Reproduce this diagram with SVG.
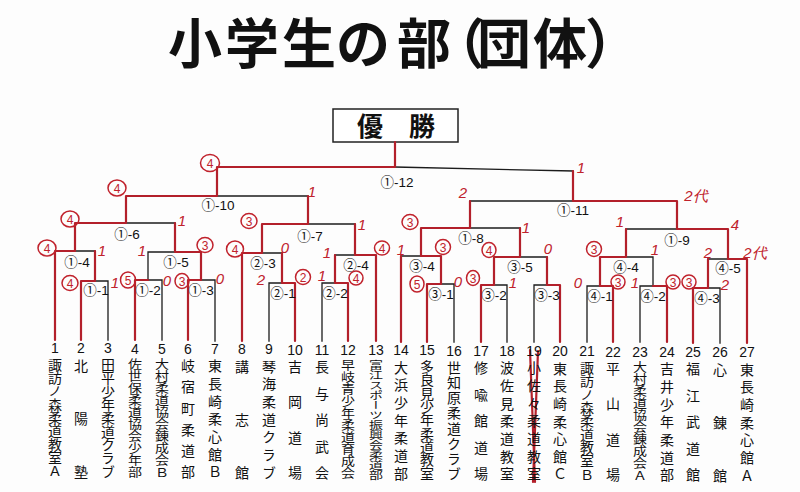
<svg xmlns="http://www.w3.org/2000/svg" width="800" height="492" viewBox="0 0 800 492">
<style>
.k{stroke:#1c1c1c;stroke-width:1.3;fill:none;stroke-linecap:square}
.r{stroke:#b3202b;stroke-width:2.2;fill:none;stroke-linecap:round}
.lb{font-family:"Liberation Sans","Noto Sans CJK JP",sans-serif;font-size:13.5px;fill:#111;text-anchor:middle}
.num{font-family:"Liberation Sans",sans-serif;font-size:14px;fill:#111;text-anchor:middle}
.nm{font-family:"Noto Sans CJK JP",sans-serif;font-size:14px;fill:#111;writing-mode:vertical-rl}
.hw{font-family:"Liberation Sans",sans-serif;font-style:italic;font-size:15px;fill:#c0222c;text-anchor:middle}
.hc{font-family:"Liberation Sans",sans-serif;font-size:12px;fill:#c0222c;text-anchor:middle}
.ci{fill:none;stroke:#c0222c;stroke-width:1.5}
</style>
<rect width="800" height="492" fill="#fdfdfd"/>
<g id="title">
<text x="195 252 309 363 424 458 504 560 612" y="64" font-family="Noto Sans CJK JP, sans-serif" font-weight="700" font-size="54" text-anchor="middle" fill="#111">小学生の部（団体）</text>
</g>
<g id="champion">
<rect x="333" y="109" width="125" height="33" fill="#fff" stroke="#222" stroke-width="1.5"/>
<text x="396" y="136" font-family="Noto Sans CJK JP, sans-serif" font-weight="700" font-size="26" text-anchor="middle" fill="#111">優　勝</text>
</g>
<g id="connectors">
<path class="k" d="M108 340V281M162 340V280M215 341V280M269 341V283M322 341V283M454 342V284M507 342V285M534 342V285M587 342V286M640 342V286M720 343V288
M95 281H108M148 280H162M201 280H215M269 283H282M322 283H335M441 284H454M494 285H507M534 285H547M587 286H600M640 286H653M707 288H720
M148 280V252M653 286V257
M75 251H95M148 252H175M262 253H282M335 255H355M401 256H421M520 257H547M626 257H653M708 259H728
M126 223H175M308 224H355M470 228H520M626 229H677
M217 196H308M470 201H573M395 167L573 171"/>
<path class="r" d="M55 340V251M81 340V281M135 340V280M188 340V280M242 341V253M295 341V283M348 341V283M376 341V255M401 342V256M427 342V284M481 342V285M560 342V285M613 342V286M667 342V286M693 343V288M747 343V259
M81 281H95M135 280H148M188 280H201M282 283H295M335 283H348M427 284H441M481 285H494M547 285H560M600 286H613M653 286H667M693 288H708
M95 281V251M201 280V252M282 283V253M335 283V255M441 284V256M494 285V257M547 285V257M600 286V257M708 288V259
M55 251H75M175 252H201M242 253H262M355 255H376M421 256H441M494 257H520M600 257H626M728 259H747
M75 251V223M175 252V223M262 253V224M355 255V224M421 256V228M520 257V228M626 257V229M728 259V229
M75 223H126M262 224H308M421 228H470M677 229H728
M126 223V196M308 224V196M470 228V201M677 229V201
M126 196H217M573 201H677
M217 196V167M573 201V171
M217 167H395M395 167V142"/>
<path class="r" stroke-width="1.4" d="M530 350L535 482M538 351L533 482"/>
</g>
<g id="matches">
<g id="m1-1"><text class="lb" x="96" y="295">①-1</text></g>
<g id="m1-2"><text class="lb" x="148" y="295">①-2</text></g>
<g id="m1-3"><text class="lb" x="201" y="295">①-3</text></g>
<g id="m1-4"><text class="lb" x="77" y="267">①-4</text></g>
<g id="m1-5"><text class="lb" x="176" y="267">①-5</text></g>
<g id="m1-6"><text class="lb" x="127" y="239">①-6</text></g>
<g id="m1-7"><text class="lb" x="310" y="241">①-7</text></g>
<g id="m1-10"><text class="lb" x="218" y="210">①-10</text></g>
<g id="m1-12"><text class="lb" x="397" y="187">①-12</text></g>
<g id="m2-1"><text class="lb" x="283" y="298">②-1</text></g>
<g id="m2-2"><text class="lb" x="335" y="298">②-2</text></g>
<g id="m2-3"><text class="lb" x="263" y="268">②-3</text></g>
<g id="m2-4"><text class="lb" x="356" y="270">②-4</text></g>
<g id="m3-1"><text class="lb" x="441" y="299">③-1</text></g>
<g id="m3-2"><text class="lb" x="494" y="300">③-2</text></g>
<g id="m3-3"><text class="lb" x="547" y="300">③-3</text></g>
<g id="m3-4"><text class="lb" x="422" y="271">③-4</text></g>
<g id="m3-5"><text class="lb" x="520" y="272">③-5</text></g>
<g id="m1-8"><text class="lb" x="471" y="243">①-8</text></g>
<g id="m1-11"><text class="lb" x="573" y="215">①-11</text></g>
<g id="m1-9"><text class="lb" x="677" y="245">①-9</text></g>
<g id="m4-1"><text class="lb" x="600" y="301">④-1</text></g>
<g id="m4-2"><text class="lb" x="653" y="301">④-2</text></g>
<g id="m4-3"><text class="lb" x="707" y="303">④-3</text></g>
<g id="m4-4"><text class="lb" x="626" y="272">④-4</text></g>
<g id="m4-5"><text class="lb" x="728" y="273">④-5</text></g>
</g>
<g id="teams">
<g id="t1"><text class="num" x="55" y="353">1</text><text class="nm" transform="translate(55 358) scale(1 0.952)">諏訪ノ森柔道教室Ａ</text></g>
<g id="t2"><text class="num" x="81" y="353.2">2</text><text class="nm" x="81" y="358.2 411.2 464.2">北陽塾</text></g>
<g id="t3"><text class="num" x="108" y="353.3">3</text><text class="nm" transform="translate(108 358.3) scale(1 0.952)">田平少年柔道クラブ</text></g>
<g id="t4"><text class="num" x="135" y="353.5">4</text><text class="nm" transform="translate(135 358.5) scale(1 0.857)">佐世保柔道協会少年部</text></g>
<g id="t5"><text class="num" x="162" y="353.7">5</text><text class="nm" transform="translate(162 358.7) scale(1 0.857)">大村柔道協会錬成会Ｂ</text></g>
<g id="t6"><text class="num" x="188" y="353.9">6</text><text class="nm" x="188" y="358.9 380.1 401.3 422.5 443.7 464.9">岐宿町柔道部</text></g>
<g id="t7"><text class="num" x="215" y="354">7</text><text class="nm" x="215" y="359 376.7 394.3 412 429.7 447.3 465">東長崎柔心館Ｂ</text></g>
<g id="t8"><text class="num" x="242" y="354.2">8</text><text class="nm" x="242" y="359.2 412.2 465.2">講志館</text></g>
<g id="t9"><text class="num" x="269" y="354.4">9</text><text class="nm" x="269" y="359.4 377.1 394.7 412.4 430.1 447.7 465.4">琴海柔道クラブ</text></g>
<g id="t10"><text class="num" x="295" y="354.5">10</text><text class="nm" x="295" y="359.5 394.8 430.2 465.5">吉岡道場</text></g>
<g id="t11"><text class="num" x="322" y="354.7">11</text><text class="nm" x="322" y="359.7 386.2 412.7 439.2 465.7">長与尚武会</text></g>
<g id="t12"><text class="num" x="348" y="354.9">12</text><text class="nm" transform="translate(348 359.9) scale(1 0.857)">早岐青少年柔道育成会</text></g>
<g id="t13"><text class="num" x="376" y="355">13</text><text class="nm" transform="translate(376 360) scale(1 0.714)">富江スポーツ振興会柔道部</text></g>
<g id="t14"><text class="num" x="401" y="355.2">14</text><text class="nm" x="401" y="360.2 377.9 395.5 413.2 430.9 448.5 466.2">大浜少年柔道部</text></g>
<g id="t15"><text class="num" x="427" y="355.4">15</text><text class="nm" transform="translate(427 360.4) scale(1 0.952)">多良見少年柔道教室</text></g>
<g id="t16"><text class="num" x="454" y="355.6">16</text><text class="nm" x="454" y="360.6 375.7 390.9 406 421.2 436.3 451.4 466.6">世知原柔道クラブ</text></g>
<g id="t17"><text class="num" x="481" y="355.7">17</text><text class="nm" x="481" y="360.7 387.2 413.7 440.2 466.7">修喩館道場</text></g>
<g id="t18"><text class="num" x="507" y="355.9">18</text><text class="nm" x="507" y="360.9 378.6 396.2 413.9 431.6 449.2 466.9">波佐見柔道教室</text></g>
<g id="t19"><text class="num" x="534" y="356.1">19</text><text class="nm" x="534" y="361.1 378.8 396.4 414.1 431.8 449.4 467.1">小佐々柔道教室</text></g>
<g id="t20"><text class="num" x="560" y="356.2">20</text><text class="nm" x="560" y="361.2 378.9 396.5 414.2 431.9 449.5 467.2">東長崎柔心館Ｃ</text></g>
<g id="t21"><text class="num" x="587" y="356.4">21</text><text class="nm" transform="translate(587 361.4) scale(1 0.952)">諏訪ノ森柔道教室Ｂ</text></g>
<g id="t22"><text class="num" x="613" y="356.6">22</text><text class="nm" x="613" y="361.6 396.9 432.3 467.6">平山道場</text></g>
<g id="t23"><text class="num" x="640" y="356.7">23</text><text class="nm" transform="translate(640 361.7) scale(1 0.857)">大村柔道協会錬成会Ａ</text></g>
<g id="t24"><text class="num" x="667" y="356.9">24</text><text class="nm" x="667" y="361.9 379.6 397.2 414.9 432.6 450.2 467.9">吉井少年柔道部</text></g>
<g id="t25"><text class="num" x="693" y="357.1">25</text><text class="nm" x="693" y="362.1 388.6 415.1 441.6 468.1">福江武道館</text></g>
<g id="t26"><text class="num" x="720" y="357.3">26</text><text class="nm" x="720" y="362.3 415.3 468.3">心錬館</text></g>
<g id="t27"><text class="num" x="747" y="357.4">27</text><text class="nm" x="747" y="362.4 380.1 397.7 415.4 433.1 450.7 468.4">東長崎柔心館Ａ</text></g>
</g>
<g id="scores">
<g class="circ">
<ellipse class="ci" cx="210" cy="163" rx="9.5" ry="8.5"/><text class="hc" x="210" y="167.5">4</text>
<ellipse class="ci" cx="117" cy="188" rx="9" ry="8"/><text class="hc" x="117" y="192.5">4</text>
<ellipse class="ci" cx="70" cy="219" rx="9" ry="8"/><text class="hc" x="70" y="223.5">4</text>
<ellipse class="ci" cx="47" cy="248" rx="9" ry="8"/><text class="hc" x="47" y="252.5">4</text>
<ellipse class="ci" cx="70" cy="283" rx="8" ry="7.5"/><text class="hc" x="70" y="287.5">4</text>
<ellipse class="ci" cx="128" cy="280" rx="7.5" ry="8"/><text class="hc" x="128" y="284.5">5</text>
<ellipse class="ci" cx="182" cy="281" rx="7" ry="7.5"/><text class="hc" x="182" y="285.5">3</text>
<ellipse class="ci" cx="205" cy="245" rx="8" ry="7.5"/><text class="hc" x="205" y="249.5">3</text>
<ellipse class="ci" cx="249" cy="221" rx="8" ry="7.5"/><text class="hc" x="249" y="225.5">3</text>
<ellipse class="ci" cx="235" cy="249" rx="8.5" ry="8"/><text class="hc" x="235" y="253.5">4</text>
<ellipse class="ci" cx="303" cy="277" rx="7.5" ry="7.5"/><text class="hc" x="303" y="281.5">2</text>
<ellipse class="ci" cx="382" cy="248" rx="7.5" ry="7"/><text class="hc" x="382" y="252.5">4</text>
<ellipse class="ci" cx="356" cy="278" rx="7" ry="7"/><text class="hc" x="356" y="282.5">4</text>
<ellipse class="ci" cx="410" cy="222" rx="8" ry="7.5"/><text class="hc" x="410" y="226.5">3</text>
<ellipse class="ci" cx="443" cy="247" rx="7.5" ry="7.5"/><text class="hc" x="443" y="251.5">3</text>
<ellipse class="ci" cx="417" cy="284" rx="7" ry="8"/><text class="hc" x="417" y="288.5">5</text>
<ellipse class="ci" cx="489" cy="250" rx="7" ry="7.5"/><text class="hc" x="489" y="254.5">4</text>
<ellipse class="ci" cx="473" cy="278" rx="6.5" ry="7.5"/><text class="hc" x="473" y="282.5">3</text>
<ellipse class="ci" cx="594" cy="249" rx="7.5" ry="7.5"/><text class="hc" x="594" y="253.5">3</text>
<ellipse class="ci" cx="618" cy="282" rx="7" ry="7"/><text class="hc" x="618" y="286.5">3</text>
<ellipse class="ci" cx="673" cy="282" rx="7" ry="7"/><text class="hc" x="673" y="286.5">3</text>
<ellipse class="ci" cx="689" cy="282" rx="7" ry="7"/><text class="hc" x="689" y="286.5">3</text>
</g>
<g class="plain">
<text class="hw" x="581" y="173">1</text>
<text class="hw" x="312" y="197">1</text>
<text class="hw" x="182" y="226">1</text>
<text class="hw" x="362" y="230">1</text>
<text class="hw" x="102" y="256">1</text>
<text class="hw" x="142" y="256">1</text>
<text class="hw" x="285" y="253" font-size="11">0</text>
<text class="hw" x="327" y="258">1</text>
<text class="hw" x="115" y="288">1</text>
<text class="hw" x="167" y="286">0</text>
<text class="hw" x="220" y="284">0</text>
<text class="hw" x="261" y="285">2</text>
<text class="hw" x="322" y="281">1</text>
<text class="hw" x="463" y="198">2</text>
<text class="hw" x="696" y="201">2代</text>
<text class="hw" x="526" y="233">1</text>
<text class="hw" x="401" y="255">1</text>
<text class="hw" x="458" y="287">0</text>
<text class="hw" x="548" y="254">0</text>
<text class="hw" x="513" y="288">1</text>
<text class="hw" x="620" y="227">1</text>
<text class="hw" x="735" y="230">4</text>
<text class="hw" x="655" y="255">1</text>
<text class="hw" x="578" y="288">0</text>
<text class="hw" x="635" y="288">1</text>
<text class="hw" x="725" y="290">2</text>
<text class="hw" x="708" y="258">2</text>
<text class="hw" x="755" y="258">2代</text>
</g>
</g>
</svg>
